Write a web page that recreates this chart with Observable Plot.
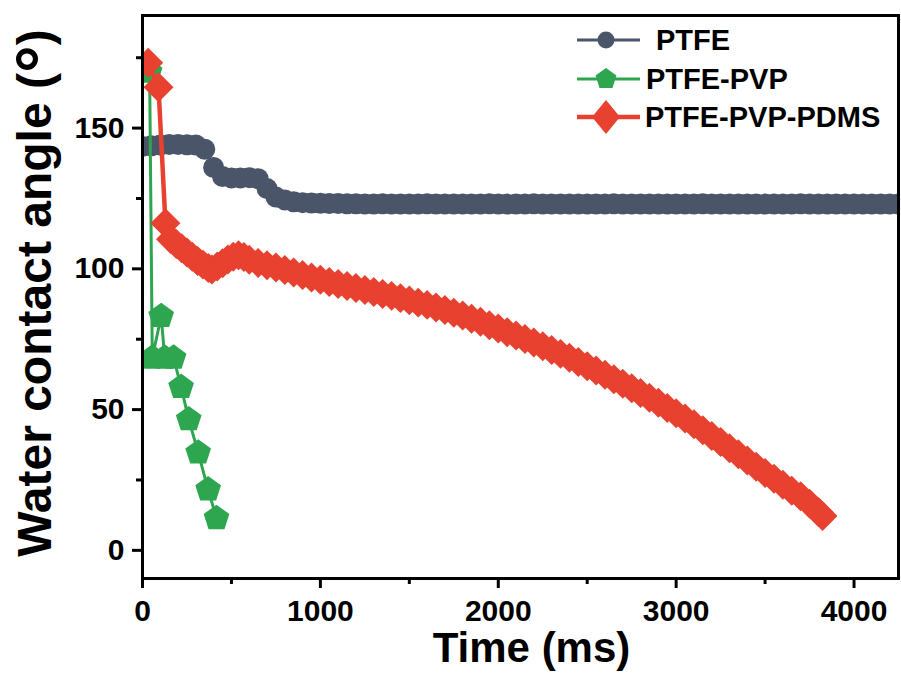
<!DOCTYPE html>
<html>
<head>
<meta charset="utf-8">
<script src="https://cdn.jsdelivr.net/npm/d3@7"></script>
<script src="https://cdn.jsdelivr.net/npm/@observablehq/plot@0.6"></script>
<style>
  html, body { margin: 0; padding: 0; background: #fff; }
  #wrap { position: relative; width: 901px; height: 675px; }
  #wrap svg { display: block; }
  #legend { position: absolute; left: 0; top: 0; pointer-events: none; }
</style>
</head>
<body>
<div id="wrap"></div>
<script>
// ---------------- data ----------------
const seriesNames = ["PTFE", "PTFE-PVP", "PTFE-PVP-PDMS"];
const seriesColors = ["#4b5569", "#2ea64f", "#e8412f"];

const ptfeTime = [0,50,100,150,200,250,300,350,400,450,500,550,600,650,700,750,800,850,900,950,
  1000,1050,1100,1150,1200,1250,1300,1350,1400,1450,1500,1550,1600,1650,1700,1750,1800,1850,1900,1950,
  2000,2050,2100,2150,2200,2250,2300,2350,2400,2450,2500,2550,2600,2650,2700,2750,2800,2850,2900,2950,
  3000,3050,3100,3150,3200,3250,3300,3350,3400,3450,3500,3550,3600,3650,3700,3750,3800,3850,3900,3950,
  4000,4050,4100,4150,4200,4250];
const ptfeAngle = [143.5,143.7,144,144.2,144.2,144.1,144,142.5,136,132.8,132.3,132.3,132.4,132,128.5,125.5,124.5,123.8,123.5,123.4,
  123.3,123.2,123.2,123.1,123.1,123,123,123.1,123,123,123,123,123.1,123,123,123,123,123,123,123.1,
  123,123,123,123,123.1,123,123,123,123,123,123,123,123,123.1,123,123,123,123,123,123,
  123,123,123,123.1,123,123,123,123,123,123,123,123,123,123,123.1,123,123,123,123,123,
  123,123,123,123,123,123];

const pvpTime  = [40, 55, 105, 125, 175, 217, 260, 313, 369, 416];
const pvpAngle = [170, 68.4, 83.2, 68.4, 68.4, 58.0, 46.5, 34.7, 21.6, 11.4];

const pdmsTime = [32,90,129,160,190,220,250,280,310,340,370,390,420,450,480,510,540,570,600,650,
  700,750,800,850,900,950,1000,1050,1100,1150,1200,1250,1300,1350,1400,1450,1500,1550,1600,1650,
  1700,1750,1800,1850,1900,1950,2000,2050,2100,2150,2200,2250,2300,2350,2400,2450,2500,2550,2600,2650,
  2700,2750,2800,2850,2900,2950,3000,3050,3100,3150,3200,3250,3300,3350,3400,3450,3500,3550,3600,3650,
  3700,3750,3800,3823];
const pdmsAngle = [173.2,164.5,116.2,110.5,108.8,107.3,105.8,104.3,102.8,101.5,100.3,99.8,100.8,102,103.3,104.3,104.8,104.2,103.2,102.1,
  101.3,100.5,99.6,98.7,97.8,96.9,96.1,95.3,94.6,93.9,93.2,92.5,91.8,91.1,90.4,89.6,88.8,88,87.2,86.3,
  85.4,84.4,83.4,82.3,81.2,80,78.8,77.5,76.3,75.1,73.8,72.5,71.2,69.8,68.4,66.9,65.4,63.9,62.4,60.8,
  59.2,57.6,55.9,54.2,52.4,50.6,48.7,46.8,44.8,42.7,40.6,38.5,36.3,34.1,31.9,29.7,27.5,25.4,23.3,21.2,
  19.2,16.6,13.6,12.2];

const xMajorTicks = [0, 1000, 2000, 3000, 4000];
const xMinorTicks = [500, 1500, 2500, 3500];
const yMajorTicks = [0, 50, 100, 150];
const yMinorTicks = [25, 75, 125, 175];
const xTitle = "Time (ms)";
const yTitleMain = "Water contact angle (";
const yTitleDeg = "°";
const yTitleEnd = ")";

// ---------------- build ----------------
const toRows = (ts, vs) => ts.map((t, i) => ({t, v: vs[i]}));
const ptfe = toRows(ptfeTime, ptfeAngle);
const pvp = toRows(pvpTime, pvpAngle);
const pdms = toRows(pdmsTime, pdmsAngle);

const pentagon = {
  draw(context, size) {
    const R = Math.sqrt(size / Math.PI);
    for (let i = 0; i < 5; i++) {
      const a = -Math.PI / 2 + i * 2 * Math.PI / 5;
      const x = R * Math.cos(a), y = R * Math.sin(a);
      if (i === 0) context.moveTo(x, y); else context.lineTo(x, y);
    }
    context.closePath();
  }
};

const FONT = "'Liberation Sans', Arial, sans-serif";

const chart = Plot.plot({
  width: 901,
  height: 675,
  marginLeft: 142,
  marginRight: 3,
  marginTop: 15,
  marginBottom: 97,
  x: {domain: [0, 4250]},
  y: {domain: [-10, 190]},
  style: {fontFamily: FONT, fontWeight: "bold", background: "#fff", color: "#000"},
  marks: [
    Plot.line(ptfe, {x: "t", y: "v", stroke: seriesColors[0], strokeWidth: 3, clip: true}),
    Plot.dot(ptfe, {x: "t", y: "v", r: 10.5, fill: seriesColors[0], symbol: "circle", clip: true}),
    Plot.line(pvp, {x: "t", y: "v", stroke: seriesColors[1], strokeWidth: 3, clip: true}),
    Plot.dot(pvp, {x: "t", y: "v", r: 13.5, fill: seriesColors[1], symbol: pentagon, clip: true}),
    Plot.line(pdms, {x: "t", y: "v", stroke: seriesColors[2], strokeWidth: 4.5, clip: true}),
    Plot.dot(pdms, {x: "t", y: "v", r: 13.5, fill: seriesColors[2], symbol: "diamond2", clip: true}),
    Plot.axisX({ticks: xMajorTicks, tickSize: 10, tickPadding: 11, strokeWidth: 3, fontSize: 30,
      tickFormat: d => String(d), label: null}),
    Plot.axisX({ticks: xMinorTicks, tickSize: 6, strokeWidth: 3, tickFormat: () => "", label: null}),
    Plot.axisY({ticks: yMajorTicks, tickSize: 10, tickPadding: 8, strokeWidth: 3, fontSize: 30,
      tickFormat: d => String(d), label: null}),
    Plot.axisY({ticks: yMinorTicks, tickSize: 6, strokeWidth: 3, tickFormat: () => "", label: null}),
    Plot.frame({stroke: "#000", strokeWidth: 3}),
    Plot.text([xTitle], {frameAnchor: "bottom", textAnchor: "middle", dx: 11, dy: 70, lineAnchor: "middle",
      fontSize: 42, fontWeight: "bold", fill: "#000", text: d => d}),
    Plot.text([yTitleMain + yTitleDeg + yTitleEnd], {frameAnchor: "left", textAnchor: "middle", dx: -107, dy: -4,
      rotate: -90, lineAnchor: "middle", fontSize: 48, fontWeight: "bold", fill: "#000", text: d => d})
  ]
});
document.getElementById("wrap").appendChild(chart);

// enlarge the degree ring of the y title, as in the reference
d3.select(chart).selectAll("text").filter(function () {
  return this.textContent === yTitleMain + yTitleDeg + yTitleEnd;
}).each(function () {
  const t = d3.select(this);
  t.text(null);
  t.append("tspan").text(yTitleMain);
  t.append("tspan").attr("font-size", "1.45em").attr("dy", "14").text(yTitleDeg);
  t.append("tspan").attr("dy", "-14").text(yTitleEnd);
});

// ---------------- legend ----------------
const legend = d3.select("#wrap").append("svg")
  .attr("id", "legend").attr("width", 901).attr("height", 675);
const legY = [40, 79, 117];
const legTextX = [656, 646, 645];
const legLineW = [3, 3, 4.5];
const legSymbols = [
  d3.symbol().type(d3.symbolCircle).size(Math.PI * 8.5 * 8.5)(),
  d3.symbol().type(pentagon).size(Math.PI * 11 * 11)(),
  "M0,-17L14,0L0,17L-14,0Z"
];
seriesNames.forEach((name, i) => {
  const g = legend.append("g").attr("transform", `translate(0,${legY[i]})`);
  g.append("line").attr("x1", 577).attr("x2", 640).attr("y1", 0).attr("y2", 0)
    .attr("stroke", seriesColors[i]).attr("stroke-width", legLineW[i]);
  g.append("path").attr("d", legSymbols[i]).attr("transform", "translate(606,0)")
    .attr("fill", seriesColors[i]);
  g.append("text").attr("x", legTextX[i]).attr("y", 0).attr("dy", "0.36em")
    .attr("font-family", FONT).attr("font-weight", "bold").attr("font-size", 29)
    .attr("fill", "#000").text(name);
});
</script>
</body>
</html>
